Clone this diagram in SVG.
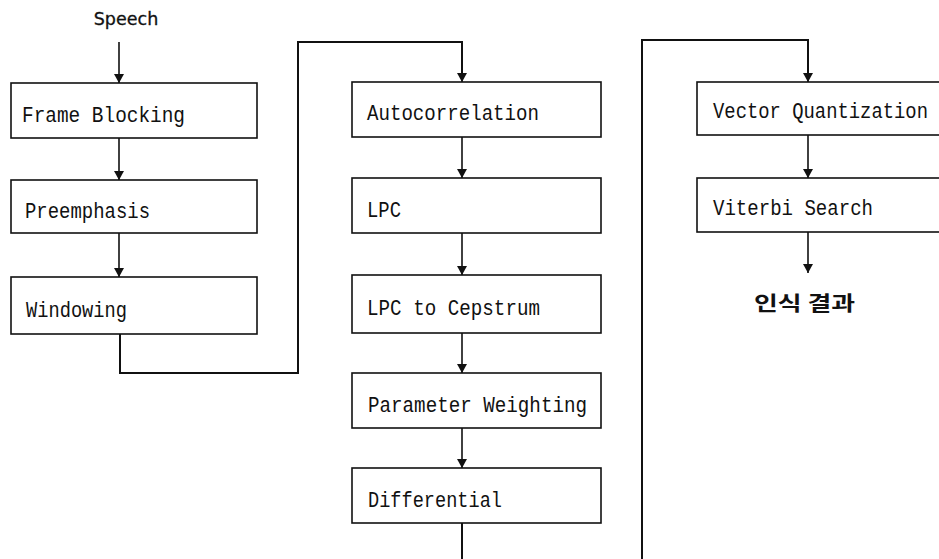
<svg xmlns="http://www.w3.org/2000/svg" width="939" height="559" viewBox="0 0 939 559">
<style>
.box{fill:#fff;stroke:#111;stroke-width:1.6}
.lbl{font-family:"Liberation Mono","DejaVu Sans Mono",monospace;font-size:22px;fill:#111}
.wire{fill:none;stroke:#111;stroke-width:2}
.arr{fill:none;stroke:#111;stroke-width:1.6;marker-end:url(#ah)}
</style>
<defs>
<marker id="ah" markerUnits="userSpaceOnUse" markerWidth="12" markerHeight="12" refX="9" refY="5.5" orient="auto">
<path d="M0,0.5 L9,5.5 L0,10.5 z" fill="#111"/>
</marker>
</defs>
<rect width="939" height="559" fill="#fff"/>
<g id="connectors">
<line class="arr" x1="119" y1="42" x2="119" y2="83"/>
<line class="arr" x1="119" y1="138" x2="119" y2="180"/>
<line class="arr" x1="119" y1="233" x2="119" y2="277"/>
<path class="wire" d="M120 334 V373 H298 V42 H462 V73"/>
<line class="arr" x1="462" y1="60" x2="462" y2="82"/>
<line class="arr" x1="462" y1="137" x2="462" y2="178"/>
<line class="arr" x1="462" y1="233" x2="462" y2="275"/>
<line class="arr" x1="462" y1="333" x2="462" y2="373"/>
<line class="arr" x1="462" y1="428" x2="462" y2="468"/>
<path class="wire" d="M462 523 V559"/>
<path class="wire" d="M642 559 V40 H808 V73"/>
<line class="arr" x1="808" y1="60" x2="808" y2="82"/>
<line class="arr" x1="808" y1="135" x2="808" y2="178"/>
<line class="arr" x1="808" y1="232" x2="808" y2="273"/>
</g>
<g id="speech"><text x="126" y="25" text-anchor="middle" font-family="DejaVu Sans, sans-serif" font-size="17.5" fill="#111" stroke="#111" stroke-width="0.3">Speech</text></g>
<g id="frame-blocking"><rect class="box" x="11" y="83" width="246" height="55"/><text class="lbl" x="22" y="122" textLength="163" lengthAdjust="spacingAndGlyphs">Frame Blocking</text></g>
<g id="preemphasis"><rect class="box" x="11" y="180" width="246" height="53"/><text class="lbl" x="25" y="218" textLength="125" lengthAdjust="spacingAndGlyphs">Preemphasis</text></g>
<g id="windowing"><rect class="box" x="11" y="277" width="246" height="57"/><text class="lbl" x="26" y="317" textLength="101" lengthAdjust="spacingAndGlyphs">Windowing</text></g>
<g id="autocorrelation"><rect class="box" x="352" y="82" width="249" height="55"/><text class="lbl" x="367" y="120" textLength="172" lengthAdjust="spacingAndGlyphs">Autocorrelation</text></g>
<g id="lpc"><rect class="box" x="352" y="178" width="249" height="55"/><text class="lbl" x="367" y="217" textLength="34" lengthAdjust="spacingAndGlyphs">LPC</text></g>
<g id="lpc-to-cepstrum"><rect class="box" x="352" y="275" width="249" height="58"/><text class="lbl" x="367" y="315" textLength="173" lengthAdjust="spacingAndGlyphs">LPC to Cepstrum</text></g>
<g id="parameter-weighting"><rect class="box" x="352" y="373" width="249" height="55"/><text class="lbl" x="368" y="412" textLength="219" lengthAdjust="spacingAndGlyphs">Parameter Weighting</text></g>
<g id="differential"><rect class="box" x="352" y="468" width="249" height="55"/><text class="lbl" x="368" y="507" textLength="134" lengthAdjust="spacingAndGlyphs">Differential</text></g>
<g id="vector-quantization"><rect class="box" x="697" y="82" width="250" height="53"/><text class="lbl" x="713" y="118" textLength="215" lengthAdjust="spacingAndGlyphs">Vector Quantization</text></g>
<g id="viterbi-search"><rect class="box" x="697" y="178" width="250" height="54"/><text class="lbl" x="713" y="215" textLength="160" lengthAdjust="spacingAndGlyphs">Viterbi Search</text></g>
<g id="result"><text x="754" y="311" font-family="Noto Sans CJK KR, sans-serif" font-size="20" font-weight="bold" fill="#111" textLength="101" lengthAdjust="spacingAndGlyphs">인식 결과</text></g>
</svg>
